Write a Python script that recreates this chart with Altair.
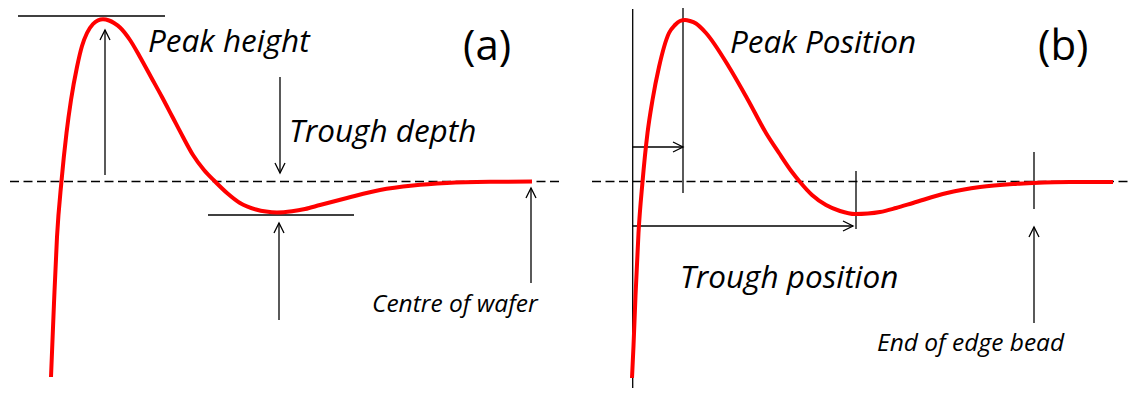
import altair as alt
import pandas as pd

# Reference frame: x = horizontal position (px in the schematic),
# y = height above the flat (dashed) level, in the same units.
ZERO = 181.5  # pixel row of the dashed level in the reference

def h(py):
    return ZERO - py

# ---- Profile curves ----
curve_a_x = [51, 54, 57, 61.5, 66.5, 71, 77, 82, 87, 93, 98, 103, 109, 114, 120, 130, 140, 151, 162, 172.5, 183, 193, 204, 215, 227, 240, 256, 266, 277, 292, 305, 320, 347, 380, 413, 447, 490, 532]
curve_a_py = [377, 303, 237, 181, 133, 100, 67, 46, 33, 24, 20.3, 19.3, 20.5, 23, 27.5, 40, 57, 77, 97, 117, 137, 155, 170, 181.5, 193, 203, 209.5, 211.6, 212.5, 211.3, 209, 205, 198, 190, 185.5, 183, 181.8, 181.5]

curve_b_x = [632, 633.5, 635.5, 638.5, 642.5, 647.5, 652.5, 659, 669, 675, 680, 685, 690, 696, 706, 729, 748, 766, 779, 792, 800, 812, 826, 840, 855, 868, 880, 896, 913, 947, 980, 1013, 1033, 1070, 1113]
curve_b_py = [378, 346, 296, 233, 182, 133, 100, 67, 33, 25, 21, 20, 21, 23.5, 33, 67, 100, 133, 153, 172, 182, 195, 205, 211, 214, 213.5, 212, 208, 203, 193, 187, 184, 183, 182, 182]

# ---- Dashed reference levels ----
dash_x1 = [10, 592]
dash_x2 = [563, 1140]

# ---- Solid guide lines: x1, py1, x2, py2 ----
seg_x1 = [18, 105, 280, 208, 279, 531, 632.7, 683, 632, 856, 632, 1034, 1034]
seg_py1 = [16, 175, 77, 215, 320, 283, 9, 7, 147, 171, 226, 152, 323]
seg_x2 = [165, 105, 280, 354, 279, 531, 632.7, 683, 683, 856, 853, 1034, 1034]
seg_py2 = [16, 30, 173, 215, 223, 188, 395, 193, 147, 229, 226, 209, 227]

# ---- Arrow heads: tip position and direction ----
head_x = [105, 280, 279, 531, 683, 853, 1034]
head_py = [30, 173, 223, 188, 147, 226, 227]
head_angle = [0, 180, 0, 0, 90, 90, 0]

# ---- Labels ----
label_text = ["Peak height", "Trough depth", "Centre of wafer", "Peak Position", "Trough position", "End of edge bead"]
label_x = [148, 289, 372, 730, 680, 877]
label_py = [52, 142, 312, 53, 288, 351]
label_size = [31.5, 31.5, 24.5, 31.5, 31.5, 24.5]

panel_text = ["(a)", "(b)"]
panel_x = [463, 1038]
panel_py = [60, 60]

curves = pd.DataFrame({
    "x": curve_a_x + curve_b_x,
    "y": [h(v) for v in curve_a_py + curve_b_py],
    "panel": ["a"] * len(curve_a_x) + ["b"] * len(curve_b_x),
})
dashes = pd.DataFrame({"x": dash_x1, "x2": dash_x2, "y": [0, 0]})
segs = pd.DataFrame({
    "x": seg_x1, "x2": seg_x2,
    "y": [h(v) for v in seg_py1], "y2": [h(v) for v in seg_py2],
})
heads = pd.DataFrame({"x": head_x, "y": [h(v) for v in head_py], "angle": head_angle})
labels = pd.DataFrame({"text": label_text, "x": label_x, "y": [h(v) for v in label_py], "size": label_size})
panels = pd.DataFrame({"text": panel_text, "x": panel_x, "y": [h(v) for v in panel_py]})

W, H = 1124, 380
xs = alt.Scale(domain=[8, 8 + W], nice=False, zero=False)
ys = alt.Scale(domain=[h(8 + H), h(8)], nice=False, zero=False)
X = lambda f="x": alt.X(f"{f}:Q", scale=xs, axis=None)
Y = lambda f="y": alt.Y(f"{f}:Q", scale=ys, axis=None)

dash_layer = alt.Chart(dashes).mark_rule(color="black", strokeWidth=1.3, strokeDash=[9, 4.5]).encode(
    x=X(), x2="x2:Q", y=Y()
)
seg_layer = alt.Chart(segs).mark_rule(color="black", strokeWidth=1.3).encode(
    x=X(), x2="x2:Q", y=Y(), y2="y2:Q"
)
head_layer = alt.Chart(heads).mark_point(
    shape="M -1 2 L 0 0 L 1 2", size=100, filled=False, color="black", strokeWidth=1.3, opacity=1
).encode(x=X(), y=Y(), angle=alt.Angle("angle:Q", scale=None))
curve_layer = alt.Chart(curves).mark_line(color="#ff0000", strokeWidth=4, interpolate="monotone").encode(
    x=X(), y=Y(), detail="panel:N", order="x:Q"
)
label_layer = alt.Chart(labels).mark_text(
    align="left", baseline="alphabetic", font="Open Sans", fontStyle="italic", color="black"
).encode(x=X(), y=Y(), text="text:N", size=alt.Size("size:Q", scale=None, legend=None))
panel_layer = alt.Chart(panels).mark_text(
    align="left", baseline="alphabetic", font="Open Sans", fontSize=42, color="black"
).encode(x=X(), y=Y(), text="text:N")

chart = alt.layer(
    dash_layer, seg_layer, head_layer, curve_layer, label_layer, panel_layer
).properties(
    width=W, height=H, padding=0, autosize=alt.AutoSizeParams(type="none")
).configure_view(stroke=None)

chart.save("out.html", embed_options={"renderer": "svg", "actions": False})
